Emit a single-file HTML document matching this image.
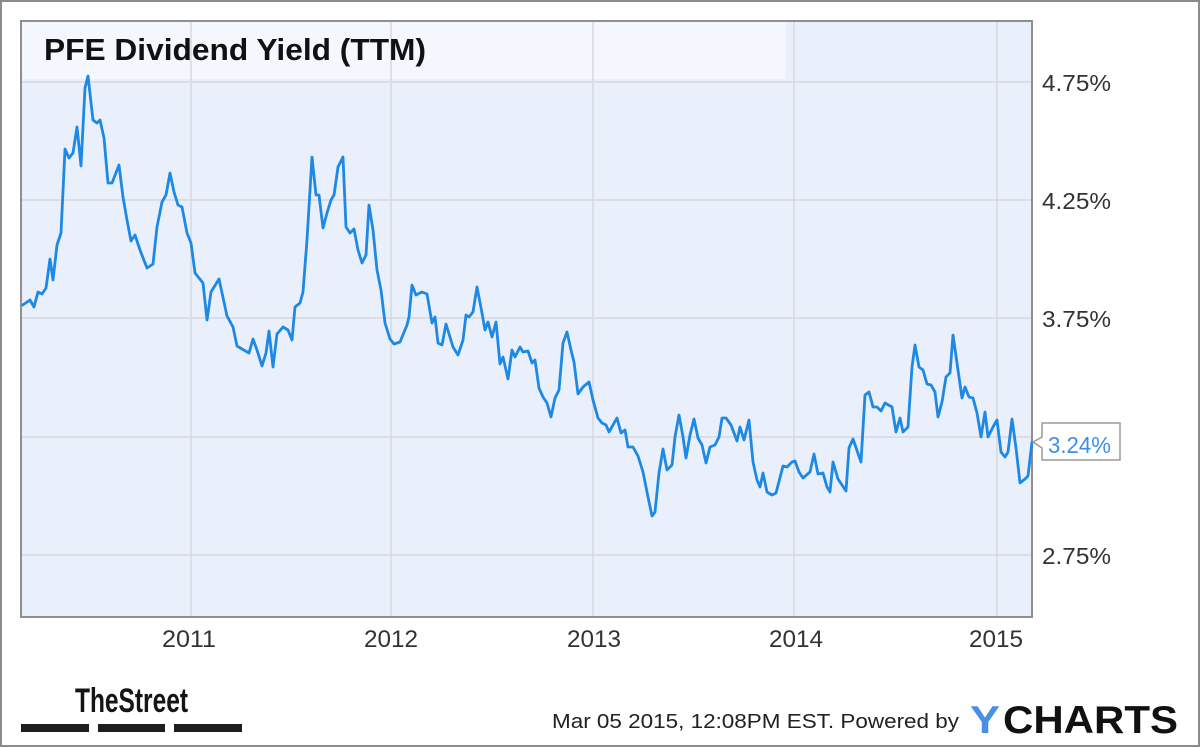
<!DOCTYPE html>
<html>
<head>
<meta charset="utf-8">
<style>
  html, body { margin:0; padding:0; background:#fff; }
  svg { display:block; }
  text { font-family: "Liberation Sans", Arial, sans-serif; }
</style>
</head>
<body>
<svg width="1200" height="747" viewBox="0 0 1200 747" xmlns="http://www.w3.org/2000/svg">
  <!-- outer frame -->
  <rect x="1" y="1" width="1198" height="745" fill="#ffffff" stroke="#8c8c8c" stroke-width="2"/>

  <!-- plot background -->
  <rect x="21" y="21" width="1011" height="596" fill="#eaf0fb"/>
  <!-- title band -->
  <rect x="22" y="22" width="764" height="57" fill="#f4f7fe"/>

  <!-- grid lines -->
  <g stroke="#d6d8dc" stroke-width="1.5">
    <line x1="21" y1="82" x2="1032" y2="82"/>
    <line x1="21" y1="200" x2="1032" y2="200"/>
    <line x1="21" y1="318" x2="1032" y2="318"/>
    <line x1="21" y1="437" x2="1032" y2="437"/>
    <line x1="21" y1="555" x2="1032" y2="555"/>
    <line x1="191" y1="21" x2="191" y2="617"/>
    <line x1="391" y1="21" x2="391" y2="617"/>
    <line x1="593" y1="21" x2="593" y2="617"/>
    <line x1="794" y1="21" x2="794" y2="617"/>
    <line x1="997" y1="21" x2="997" y2="617"/>
  </g>

  <!-- plot border -->
  <rect x="21" y="21" width="1011" height="596" fill="none" stroke="#8f8f8f" stroke-width="2"/>

  <!-- title -->
  <text x="44" y="60" font-size="31" font-weight="bold" fill="#111" textLength="382" lengthAdjust="spacingAndGlyphs">PFE Dividend Yield (TTM)</text>

  <!-- series -->
  <polyline fill="none" stroke="#1e88e5" stroke-width="2.8" stroke-linejoin="round" stroke-linecap="round"
    points="22.7,305 30,300 34,307 38,292 42,294 46,288 50,259 53,280 57,245 61,233 65,149 69,158 73,153 77,127 81,166 85,88 88,76 93,120 97,123 100,120 104,138 108,183 112,183 119,165 123,197 127,220 131,241 135,235 140,250 147,268 153,264 157,227 162,202 166,195 170,173 174,192 178,205 182,207 187,233 191,243 195,273 203,283 207,320 211,292 219,279 227,316 233,327 237,346 242,349 249,353 253,339 257,350 262,366 266,353 269,331 273,367 277,334 283,327 288,330 292,340 295,307 300,303 303,292 307,240 312,157 316,195 319,195 323,228 327,213 331,200 334,195 338,167 343,157 346,227 350,233 354,229 358,250 362,263 366,255 369,205 373,230 377,270 381,290 385,323 390,339 394,344 400,342 407,325 409,317 412,285 416,295 422,292 427,294 432,323 435,317 438,343 442,345 446,324 453,347 458,355 463,340 466,315 469,317 473,312 477,287 482,313 485,330 488,322 492,337 496,322 500,364 503,357 508,379 512,350 515,357 520,347 523,352 528,351 532,363 535,360 539,388 543,397 547,403 551,417 555,398 559,390 563,343 567,332 571,350 574,362 578,394 583,387 589,382 593,400 598,418 602,423 606,425 609,432 617,418 621,433 625,430 628,447 633,447 638,456 643,472 648,497 652,516 655,512 659,473 663,449 667,470 672,465 675,437 679,415 683,437 686,458 690,435 694,419 698,438 702,445 706,463 710,447 715,445 719,437 722,418 726,418 731,425 737,441 740,427 744,440 749,420 753,462 757,480 760,487 763,473 767,492 772,495 776,493 783,466 787,467 792,462 795,461 799,472 803,478 810,472 814,454 818,474 823,473 827,487 830,492 833,462 838,479 846,491 849,448 853,439 861,462 865,395 869,392 873,407 877,407 881,411 885,403 892,407 896,432 900,418 903,432 908,427 912,367 915,345 919,367 923,370 927,384 931,385 935,392 938,417 942,402 946,377 950,373 953,335 957,363 962,398 965,387 969,397 973,398 977,413 981,437 985,412 988,437 993,427 997,420 1001,452 1005,457 1008,452 1012,419 1016,448 1020,483 1025,479 1028,476 1032,442"/>

  <!-- right axis labels -->
  <g font-size="23" fill="#333">
    <text x="1042" y="91" textLength="69" lengthAdjust="spacingAndGlyphs">4.75%</text>
    <text x="1042" y="209" textLength="69" lengthAdjust="spacingAndGlyphs">4.25%</text>
    <text x="1042" y="327" textLength="69" lengthAdjust="spacingAndGlyphs">3.75%</text>
    <text x="1042" y="564" textLength="69" lengthAdjust="spacingAndGlyphs">2.75%</text>
  </g>

  <!-- value callout -->
  <path d="M1042,423 H1120 V460 H1042 V448 L1033,442 L1042,437 Z" fill="#ffffff" stroke="#9a9a9a" stroke-width="1.5"/>
  <text x="1048" y="453" font-size="23" fill="#3d8fe6" textLength="63" lengthAdjust="spacingAndGlyphs">3.24%</text>

  <!-- x axis labels -->
  <g font-size="24" fill="#333" text-anchor="middle">
    <text x="189" y="647" textLength="54" lengthAdjust="spacingAndGlyphs">2011</text>
    <text x="391" y="647" textLength="54" lengthAdjust="spacingAndGlyphs">2012</text>
    <text x="594" y="647" textLength="54" lengthAdjust="spacingAndGlyphs">2013</text>
    <text x="796" y="647" textLength="54" lengthAdjust="spacingAndGlyphs">2014</text>
    <text x="996" y="647" textLength="54" lengthAdjust="spacingAndGlyphs">2015</text>
  </g>

  <!-- TheStreet logo -->
  <text x="75" y="712" font-size="34" font-weight="bold" fill="#151515" textLength="113" lengthAdjust="spacingAndGlyphs">TheStreet</text>
  <rect x="21" y="724" width="68" height="8" fill="#1e1e1e"/>
  <rect x="98" y="724" width="67" height="8" fill="#1e1e1e"/>
  <rect x="174" y="724" width="68" height="8" fill="#1e1e1e"/>

  <!-- footer -->
  <text x="552" y="728" font-size="20" fill="#222" textLength="407" lengthAdjust="spacingAndGlyphs">Mar 05 2015, 12:08PM EST.  Powered by</text>
  <text x="970" y="733" font-size="39" font-weight="bold" fill="#4a8fe6" textLength="30" lengthAdjust="spacingAndGlyphs">Y</text>
  <text x="1003" y="733" font-size="39" font-weight="bold" fill="#111" textLength="175" lengthAdjust="spacingAndGlyphs">CHARTS</text>
</svg>
</body>
</html>
